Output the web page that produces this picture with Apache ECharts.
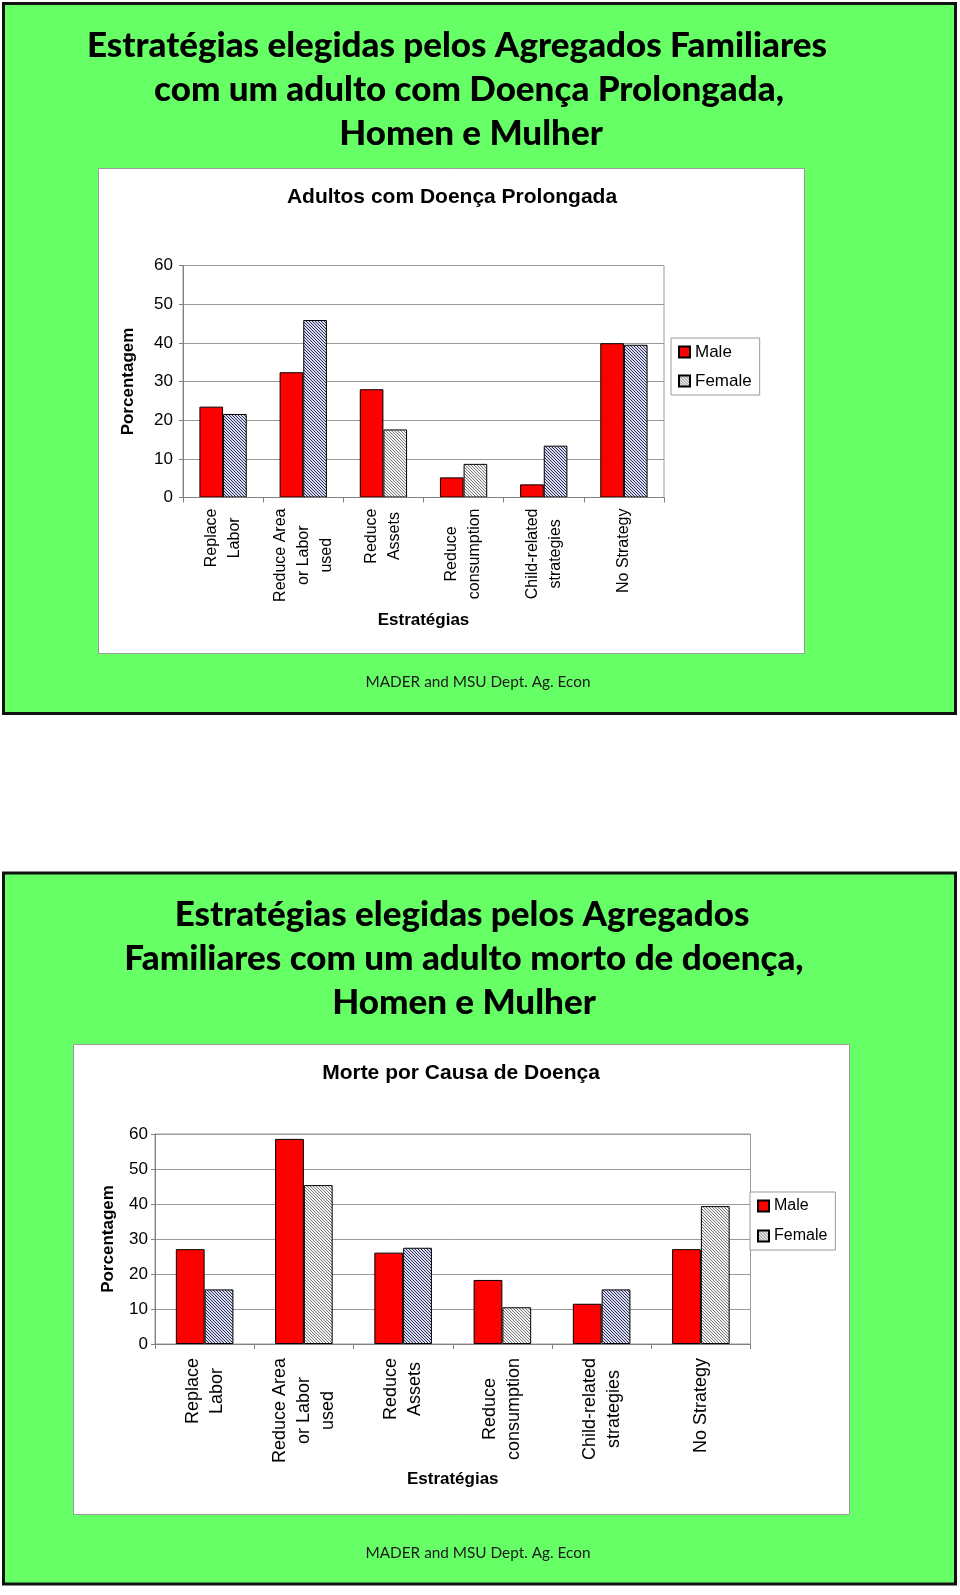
<!DOCTYPE html>
<html><head><meta charset="utf-8">
<script src="https://cdn.jsdelivr.net/npm/echarts@6/dist/echarts.min.js"></script>
<style>html,body{margin:0;padding:0;background:#fff}#c{width:960px;height:1595px}</style>
</head><body><div id="c"></div>
<script>
// ---- data ----
const categories = ['Replace\nLabor', 'Reduce Area\nor Labor\nused', 'Reduce\nAssets', 'Reduce\nconsumption', 'Child-related\nstrategies', 'No Strategy'];
const yTicks = [0, 10, 20, 30, 40, 50, 60];
const seriesNames = ['Male', 'Female'];
const chart1Title = 'Adultos com Doença Prolongada';
const chart1Male = [23.5, 32.4, 28.0, 5.2, 3.4, 39.9];
const chart1Female = [21.6, 45.9, 17.6, 8.7, 13.4, 39.5];
const chart2Title = 'Morte por Causa de Doença';
const chart2Male = [27.1, 58.6, 26.1, 18.3, 11.5, 27.1];
const chart2Female = [15.6, 45.4, 27.5, 10.5, 15.6, 39.4];
const yAxisName = 'Porcentagem';
const xAxisName = 'Estratégias';
const slide1Lines = ['Estratégias elegidas pelos Agregados Familiares', 'com um adulto com Doença Prolongada,', 'Homen e Mulher'];
const slide2Lines = ['Estratégias elegidas pelos Agregados', 'Familiares com um adulto morto de doença,', 'Homen e Mulher'];
const footerText = 'MADER and MSU Dept. Ag. Econ';
// hatch appearance per female bar (style only)
const shade1 = ['dark', 'dark', 'light', 'light', 'dark', 'dark'];
const shade2 = ['dark', 'light', 'dark', 'light', 'dark', 'light'];

// ---- styles ----
const AR = '"Liberation Sans", Arial, sans-serif';
const TF = 'Lato, "Open Sans", sans-serif';
function hatch(dark) {
  const s = 3;
  const c = document.createElement('canvas'); c.width = s; c.height = s;
  const g = c.getContext('2d');
  g.fillStyle = dark ? '#dcdcea' : '#f2f2f2';
  g.fillRect(0, 0, s, s);
  g.fillStyle = dark ? '#2a2f62' : '#7c7c7c';
  for (let i = 0; i < s; i++) g.fillRect(i, i, 1, 1);
  return c;
}
const pats = { dark: { image: hatch(true), repeat: 'repeat' }, light: { image: hatch(false), repeat: 'repeat' } };

const mctx = document.createElement('canvas').getContext('2d');
function measure(font, t) { mctx.font = font; return mctx.measureText(t).width; }
const titleFont = '900 34px ' + TF;
const tScale = 740 / measure(titleFont, slide1Lines[0]);
const footFont = '16px ' + TF;
const fScale = 225 / measure(footFont, footerText);

function textEl(t, x, y, font, sx, fill) {
  return { type: 'text', x: x, y: y, scaleX: sx, z: 5,
    style: { text: t, x: 0, y: 0, font: font, fill: fill || '#000', textAlign: 'center', textVerticalAlign: 'middle' } };
}

const graphic = [
  { type: 'rect', z: -3, shape: { x: 3.5, y: 3.5, width: 952, height: 710 }, style: { fill: '#66ff66', stroke: '#111', lineWidth: 3 } },
  { type: 'rect', z: -3, shape: { x: 3.5, y: 873, width: 952, height: 711 }, style: { fill: '#66ff66', stroke: '#111', lineWidth: 3 } },
  { type: 'rect', z: -2, shape: { x: 98.5, y: 168.5, width: 706, height: 485 }, style: { fill: '#fff', stroke: '#9a9a9a', lineWidth: 1 } },
  { type: 'rect', z: -2, shape: { x: 73.5, y: 1044.5, width: 776, height: 470 }, style: { fill: '#fff', stroke: '#9a9a9a', lineWidth: 1 } },
  textEl(slide1Lines[0], 457, 46, titleFont, tScale),
  textEl(slide1Lines[1], 469, 90, titleFont, tScale),
  textEl(slide1Lines[2], 471, 134, titleFont, tScale),
  textEl(slide2Lines[0], 462, 915, titleFont, tScale),
  textEl(slide2Lines[1], 464, 959, titleFont, tScale),
  textEl(slide2Lines[2], 464, 1003, titleFont, tScale),
  textEl(footerText, 478, 682, footFont, fScale, '#1a1a1a'),
  textEl(footerText, 478, 1553, footFont, fScale, '#1a1a1a'),
  textEl(chart1Title, 452, 197, 'bold 21px ' + AR, 1),
  textEl(chart2Title, 461, 1073, 'bold 21px ' + AR, 1)
];

function xAxisCfg(gi, fs, lh, gap, margin) {
  return {
    type: 'category', gridIndex: gi, data: categories, z: 4,
    axisLine: { lineStyle: { color: '#808080', width: 1 } },
    axisTick: { show: true, length: 5, lineStyle: { color: '#808080' } },
    axisLabel: {
      interval: 0, rotate: 90, margin: margin, color: '#000', fontFamily: AR, fontSize: fs, lineHeight: lh,
      formatter: v => v.split('\n').map(s => '{c|' + s + '}').join('\n'),
      rich: { c: { align: 'center', fontFamily: AR, fontSize: fs, lineHeight: lh, color: '#000' } }
    },
    name: xAxisName, nameLocation: 'middle', nameGap: gap,
    nameTextStyle: { fontFamily: AR, fontWeight: 'bold', fontSize: 17, color: '#000' }
  };
}
function yAxisCfg(gi, margin, gap) {
  return {
    type: 'value', gridIndex: gi, min: yTicks[0], max: yTicks[yTicks.length - 1], interval: yTicks[1] - yTicks[0], z: 1,
    axisLine: { show: true, lineStyle: { color: '#808080' } },
    axisTick: { show: true, length: 4, lineStyle: { color: '#808080' } },
    splitLine: { show: true, lineStyle: { color: '#9a9a9a', width: 1 } },
    axisLabel: { color: '#000', fontFamily: AR, fontSize: 17, margin: margin },
    name: yAxisName, nameLocation: 'middle', nameRotate: 90, nameGap: gap,
    nameTextStyle: { fontFamily: AR, fontWeight: 'bold', fontSize: 17, color: '#000' }
  };
}
function legendCfg(left, top, fs, lh, gap) {
  return {
    data: seriesNames, orient: 'vertical', left: left, top: top, padding: [5, 8, 5, 7], itemGap: gap,
    itemWidth: 11, itemHeight: 11, icon: 'rect', selectedMode: false,
    borderColor: '#9a9a9a', borderWidth: 1, backgroundColor: '#fff', z: 6,
    textStyle: { fontFamily: AR, fontSize: fs, lineHeight: lh, color: '#000' }
  };
}
function bars(gi, male, female, shade, gapPct) {
  return [
    { type: 'bar', name: seriesNames[0], xAxisIndex: gi, yAxisIndex: gi, data: male, barGap: '0%', barCategoryGap: gapPct, z: 3,
      itemStyle: { color: '#ff0000', borderColor: '#000', borderWidth: 1 } },
    { type: 'bar', name: seriesNames[1], xAxisIndex: gi, yAxisIndex: gi, barGap: '0%', barCategoryGap: gapPct, z: 3,
      data: female.map((v, i) => ({ value: v, itemStyle: { color: pats[shade[i]] } })),
      itemStyle: { color: pats.light, borderColor: '#000', borderWidth: 1 } }
  ];
}

const option = {
  animation: false,
  backgroundColor: '#fff',
  graphic: graphic,
  grid: [
    { left: 183, top: 265.5, width: 481, height: 232, show: true, borderColor: '#9a9a9a', borderWidth: 1, backgroundColor: 'transparent', z: 0 },
    { left: 155, top: 1134, width: 595.5, height: 210, show: true, borderColor: '#9a9a9a', borderWidth: 1, backgroundColor: 'transparent', z: 0 }
  ],
  xAxis: [xAxisCfg(0, 16, 23, 114, 11), xAxisCfg(1, 18, 24, 127, 14)],
  yAxis: [yAxisCfg(0, 10, 46), yAxisCfg(1, 7, 38)],
  legend: [legendCfg(671, 338, 17, 18, 11), legendCfg(750, 1192, 16, 18, 12)],
  series: bars(0, chart1Male, chart1Female, shade1, '41%').concat(bars(1, chart2Male, chart2Female, shade2, '42%'))
};
const chart = echarts.init(document.getElementById('c'), null, { renderer: 'canvas' });
chart.setOption(option);
</script></body></html>
